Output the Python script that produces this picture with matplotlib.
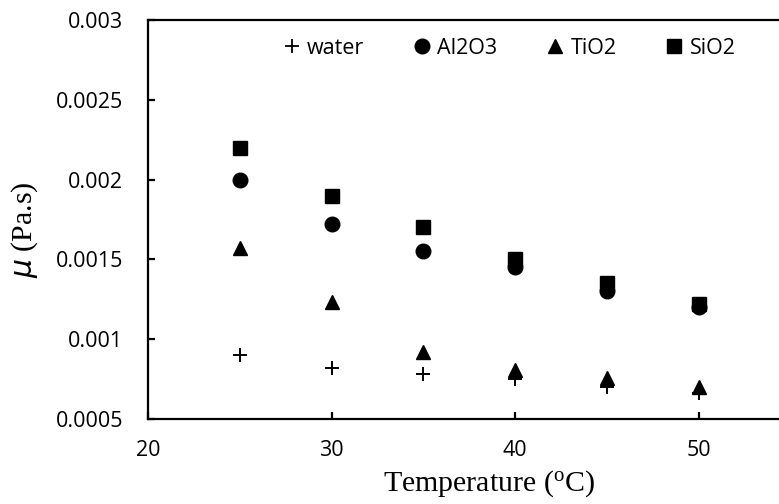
import matplotlib
matplotlib.use("Agg")
import matplotlib.pyplot as plt
from matplotlib.lines import Line2D

temps = [25, 30, 35, 40, 45, 50]
water = [0.00090, 0.00082, 0.00078, 0.00075, 0.00070, 0.00066]
al2o3 = [0.00200, 0.00172, 0.00155, 0.00145, 0.00130, 0.00120]
tio2 = [0.00157, 0.00123, 0.00092, 0.00081, 0.00076, 0.00070]
sio2 = [0.00220, 0.00190, 0.00170, 0.00150, 0.00135, 0.00122]
series_names = ["water", "Al2O3", "TiO2", "SiO2"]
x_ticks = [20, 30, 40, 50]
y_ticks = [0.0005, 0.001, 0.0015, 0.002, 0.0025, 0.003]
y_ticklabels = ["0.0005", "0.001", "0.0015", "0.002", "0.0025", "0.003"]

W, H = 779, 504
fig = plt.figure(figsize=(W / 100, H / 100), dpi=100)
left_px, right_px, top_px, bot_px = 148, 882, 20, 419
ax = fig.add_axes([left_px / W, 1 - bot_px / H, (right_px - left_px) / W, (bot_px - top_px) / H])
ax.set_xlim(20, 60)
ax.set_ylim(0.0005, 0.003)

ax.plot(temps, water, linestyle="none", marker="+", ms=10, mew=1.4, color="black", label=series_names[0])
ax.plot(temps, al2o3, linestyle="none", marker="o", ms=10.5, color="black", label=series_names[1])
ax.plot(temps, tio2, linestyle="none", marker="^", ms=10.5, color="black", label=series_names[2])
ax.plot(temps, sio2, linestyle="none", marker="s", ms=10.5, color="black", label=series_names[3])

for s in ax.spines.values():
    s.set_linewidth(1.6)
ax.spines["right"].set_visible(False)

tickfont = "Open Sans"
fs = 15.5
ax.set_xticks(x_ticks)
ax.set_xticklabels([str(t) for t in x_ticks], fontfamily=tickfont, fontsize=fs)
ax.set_yticks(y_ticks)
ax.set_yticklabels(y_ticklabels, fontfamily=tickfont, fontsize=fs)
ax.tick_params(direction="in", length=5, width=1.6)
ax.tick_params(axis="x", pad=15)
ax.tick_params(axis="y", pad=18)

ax.set_xlabel("Temperature ($\\mathregular{^{o}}$C)", fontfamily="Liberation Serif", fontsize=21.5)
ax.xaxis.set_label_coords((489 - left_px) / (right_px - left_px), (419 - 468) / (bot_px - top_px))
ax.set_ylabel("$\\mathit{\\mu}$ (Pa.s)", fontfamily="Liberation Serif", fontsize=21.5)
ax.yaxis.set_label_coords((40 - left_px) / (right_px - left_px), (419 - 230) / (bot_px - top_px))

handles = [
    Line2D([], [], linestyle="none", marker="+", ms=10, mew=1.3, color="black"),
    Line2D([], [], linestyle="none", marker="o", ms=10.5, color="black"),
    Line2D([], [], linestyle="none", marker="^", ms=10.5, color="black"),
    Line2D([], [], linestyle="none", marker="s", ms=10.5, color="black"),
]
leg = ax.legend(handles, series_names, ncol=4, frameon=False, loc="center left",
                bbox_to_anchor=((284 - left_px) / (right_px - left_px), (419 - 48) / (bot_px - top_px)),
                prop={"family": tickfont, "size": fs}, handlelength=0.7, handletextpad=0.35,
                columnspacing=2.35, borderpad=0, borderaxespad=0)

fig.savefig("out.png", dpi=100)
